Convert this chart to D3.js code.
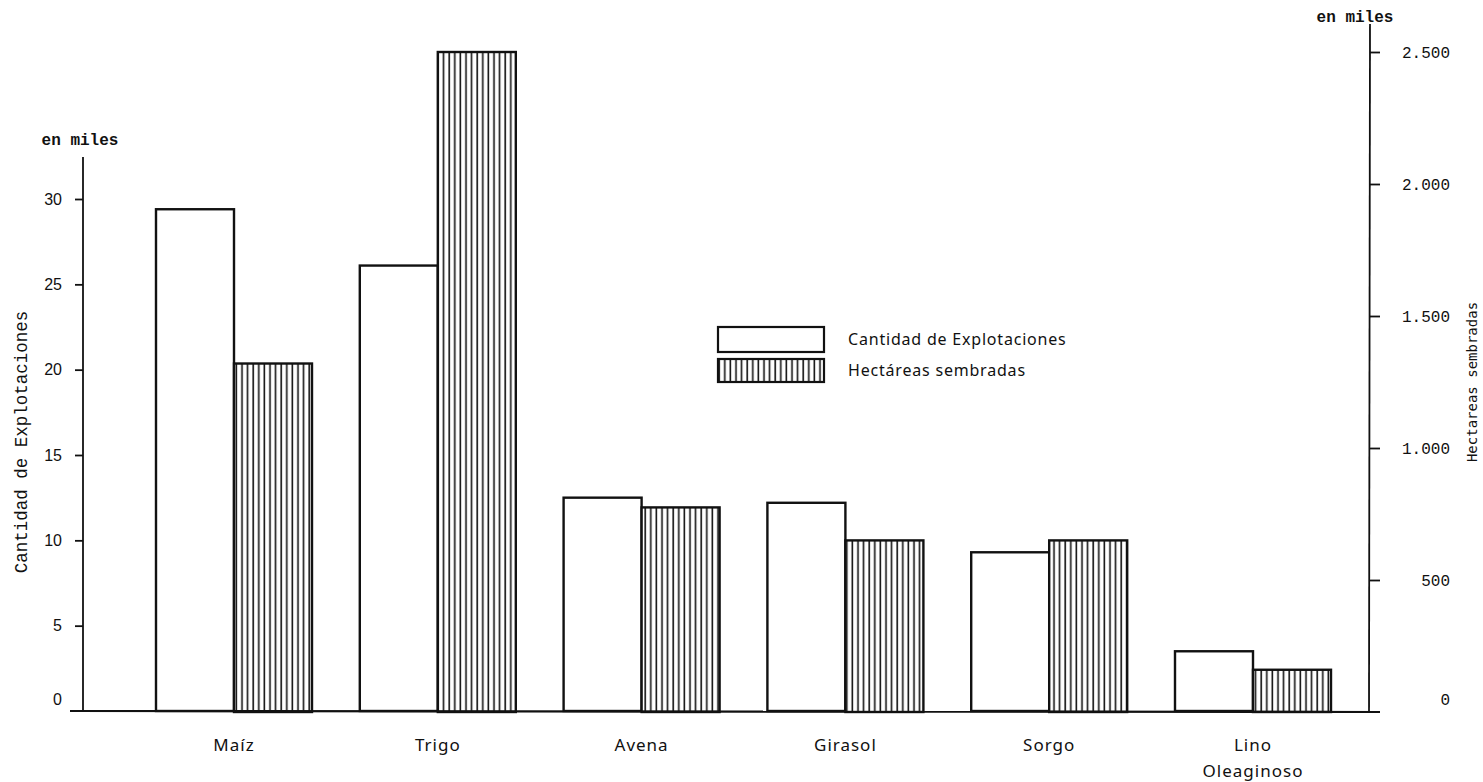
<!DOCTYPE html>
<html>
<head>
<meta charset="utf-8">
<script src="https://cdn.jsdelivr.net/npm/d3@7"></script>
<style>
  body { margin: 0; background: #fff; }
  svg { display: block; }
</style>
</head>
<body>
<div id="chart"></div>
<script>
// crops and their two series (both in thousands)
const categories = ["Maíz", "Trigo", "Avena", "Girasol", "Sorgo", "Lino Oleaginoso"];
const catLines = [["Maíz"], ["Trigo"], ["Avena"], ["Girasol"], ["Sorgo"], ["Lino", "Oleaginoso"]];
const explotaciones = [29.4, 26.1, 12.5, 12.2, 9.3, 3.5];
const hectareas = [1320, 2500, 775, 650, 650, 160];
const leftTicks = [0, 5, 10, 15, 20, 25, 30];
const rightTicks = [0, 500, 1000, 1500, 2000, 2500];
const legendLabels = ["Cantidad de Explotaciones", "Hectáreas sembradas"];

const W = 1483, H = 782;
const svg = d3.select("#chart").append("svg")
  .attr("width", W).attr("height", H);

// vertical hatching
const defs = svg.append("defs");
const pat = defs.append("pattern")
  .attr("id", "hatch")
  .attr("patternUnits", "userSpaceOnUse")
  .attr("width", 5.6).attr("height", 10);
pat.append("rect").attr("width", 5.6).attr("height", 10).attr("fill", "#fff");
pat.append("line")
  .attr("x1", 1.2).attr("x2", 1.2).attr("y1", 0).attr("y2", 10)
  .attr("stroke", "#111").attr("stroke-width", 1.6);

const x = d3.scalePoint().domain(categories).range([234, 1253]);
const sub = d3.scaleBand().domain(["exp", "ha"]).range([-78, 78]);
const yL = d3.scaleLinear().domain([0, 30]).range([711, 199]);
const yR = d3.scaleLinear().domain([0, 2500]).range([712, 52]);

const numFont = "'Liberation Sans', Arial, sans-serif";
const monoFont = "'Liberation Mono', 'DejaVu Sans Mono', monospace";
const labelFont = "'Noto Sans', 'DejaVu Sans', sans-serif";

// bars
const g = svg.append("g");
categories.forEach((c, i) => {
  g.append("rect")
    .attr("x", x(c) + sub("exp"))
    .attr("y", yL(explotaciones[i]))
    .attr("width", sub.bandwidth())
    .attr("height", yL(0) - yL(explotaciones[i]))
    .attr("fill", "#fff").attr("stroke", "#111").attr("stroke-width", 2.4);
  g.append("rect")
    .attr("x", x(c) + sub("ha"))
    .attr("y", yR(hectareas[i]))
    .attr("width", sub.bandwidth())
    .attr("height", yR(0) - yR(hectareas[i]))
    .attr("fill", "url(#hatch)").attr("stroke", "#111").attr("stroke-width", 2.4);
});

// baseline
svg.append("line")
  .attr("x1", 70).attr("x2", 1380).attr("y1", 711).attr("y2", 712)
  .attr("stroke", "#111").attr("stroke-width", 2.2);

// left axis
const axL = svg.append("g").attr("transform", "translate(83,0)")
  .call(d3.axisLeft(yL).tickValues(leftTicks).tickSize(8).tickPadding(13)
    .tickFormat(d3.format("d")));
axL.select(".domain").remove();
axL.selectAll("line").attr("stroke", "#111").attr("stroke-width", 1.8);
axL.selectAll("text").attr("font-family", numFont).attr("font-size", 16).attr("fill", "#111");
axL.selectAll(".tick").filter(d => d === 0).select("line").remove();
axL.selectAll(".tick").filter(d => d === 0).select("text").attr("dy", "-0.4em");
svg.append("line").attr("x1", 83).attr("x2", 83).attr("y1", 157).attr("y2", 711)
  .attr("stroke", "#111").attr("stroke-width", 1.8);

// right axis
const axR = svg.append("g").attr("transform", "translate(1370,0)")
  .call(d3.axisRight(yR).tickValues(rightTicks).tickSize(10)
    .tickFormat(d => d3.format(",")(d).replace(",", ".")));
axR.select(".domain").remove();
axR.selectAll("line").attr("stroke", "#111").attr("stroke-width", 1.8);
axR.selectAll("text").attr("font-family", monoFont).attr("font-size", 16).attr("fill", "#111")
  .attr("text-anchor", "end").attr("x", 80);
axR.selectAll(".tick").filter(d => d === 0).select("line").remove();
axR.selectAll(".tick").filter(d => d === 0).select("text").attr("dy", "-0.5em");
svg.append("line").attr("x1", 1370).attr("x2", 1369).attr("y1", 24).attr("y2", 712)
  .attr("stroke", "#111").attr("stroke-width", 1.8);

// units
svg.append("text").attr("x", 80).attr("y", 145).attr("text-anchor", "middle")
  .attr("font-family", monoFont).attr("font-size", 16).attr("font-weight", "bold")
  .attr("fill", "#111").text("en miles");
svg.append("text").attr("x", 1355).attr("y", 22).attr("text-anchor", "middle")
  .attr("font-family", monoFont).attr("font-size", 16).attr("font-weight", "bold")
  .attr("fill", "#111").text("en miles");

// axis titles
svg.append("text").attr("transform", "translate(27,442) rotate(-90)")
  .attr("text-anchor", "middle").attr("font-family", monoFont).attr("font-size", 17.5)
  .attr("fill", "#111").text("Cantidad de Explotaciones");
svg.append("text").attr("transform", "translate(1477,382) rotate(-90)")
  .attr("text-anchor", "middle").attr("font-family", "'DejaVu Sans Mono', monospace")
  .attr("font-size", 14).attr("fill", "#111").text("Hectareas sembradas");

// category labels
categories.forEach((c, i) => {
  const t = svg.append("text").attr("x", x(c)).attr("y", 751)
    .attr("text-anchor", "middle").attr("font-family", labelFont)
    .attr("font-size", 17).attr("letter-spacing", 1).attr("fill", "#111");
  catLines[i].forEach((ln, j) => {
    t.append("tspan").attr("x", x(c)).attr("dy", j === 0 ? 0 : 26).text(ln);
  });
});

// legend
const lg = svg.append("g").attr("transform", "translate(718,327)");
lg.append("rect").attr("x", 0).attr("y", 0).attr("width", 106).attr("height", 25)
  .attr("fill", "#fff").attr("stroke", "#111").attr("stroke-width", 2.2);
lg.append("rect").attr("x", 0).attr("y", 32).attr("width", 106).attr("height", 23)
  .attr("fill", "url(#hatch)").attr("stroke", "#111").attr("stroke-width", 2.2);
legendLabels.forEach((l, i) => {
  lg.append("text").attr("x", 130).attr("y", 18 + i * 31)
    .attr("font-family", labelFont).attr("font-size", 16).attr("letter-spacing", 0.8)
    .attr("fill", "#111").text(l);
});
</script>
</body>
</html>
